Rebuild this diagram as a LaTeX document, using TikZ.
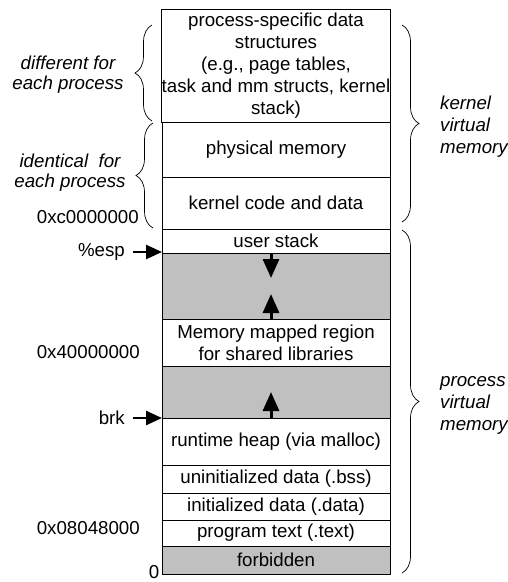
\documentclass[tikz,border=0pt]{standalone}
\usepackage{fontspec}
\setmainfont{Liberation Sans}
\usetikzlibrary{positioning,arrows.meta,decorations.pathreplacing}
\definecolor{gapgray}{RGB}{192,192,192}
\tikzset{
  seg/.style={draw,line width=0.8pt,minimum width=228pt,inner sep=0pt,outer sep=0pt,align=center,anchor=north},
  gap/.style={seg,fill=gapgray},
  growarrow/.style={line width=3pt,-{Triangle[width=16pt,length=19pt]}},
  ptr/.style={line width=2.5pt,-{Triangle[width=14pt,length=16pt]}},
  addr/.style={anchor=east,inner sep=0pt},
  side/.style={font=\itshape\fontsize{18.7}{20}\selectfont,inner sep=0pt},
  cbrace/.style={decorate,decoration={brace,amplitude=17pt},line width=0.7pt}
}
\begin{document}
\begin{tikzpicture}[x=1pt,y=-1pt,font=\fontsize{18.7}{22}\selectfont]
\useasboundingbox (0,0) rectangle (508,582);
% the address space, top to bottom
\node[seg,minimum height=113pt] (pss) at (276,9) {process-specific data\\structures\\(e.g., page tables,\\task and mm structs, kernel\\stack)};
\node[seg,minimum height=55pt,below=0pt of pss] (phys) {physical memory};
\node[seg,minimum height=52pt,below=0pt of phys] (kcode) {kernel code and data};
\node[seg,minimum height=24pt,below=0pt of kcode] (ustack) {user stack};
\node[gap,minimum height=66pt,below=0pt of ustack] (gap1) {};
\node[seg,minimum height=47pt,below=0pt of gap1] (mmap) {Memory mapped region\\for shared libraries};
\node[gap,minimum height=52pt,below=0pt of mmap] (gap2) {};
\node[seg,minimum height=47pt,below=0pt of gap2] (heap) {runtime heap (via malloc)};
\node[seg,minimum height=28pt,below=0pt of heap] (bss) {uninitialized data (.bss)};
\node[seg,minimum height=27pt,below=0pt of bss] (data) {initialized data (.data)};
\node[seg,minimum height=26pt,below=0pt of data] (text) {program text (.text)};
\node[gap,minimum height=28pt,below=0pt of text] (forbid) {forbidden};
% growth arrows
\draw[growarrow] ([xshift=-5pt]gap1.north) -- ([xshift=-5pt,yshift=-25pt]gap1.north);
\draw[growarrow] ([xshift=-5pt]gap1.south) -- ([xshift=-5pt,yshift=25pt]gap1.south);
\draw[growarrow] ([xshift=-5pt]gap2.south) -- ([xshift=-5pt,yshift=26pt]gap2.south);
% pointers and addresses
\node[addr] (esp) at (125,252) {\%esp};
\draw[ptr] ([xshift=8pt]esp.east) -- (esp -| ustack.west);
\node[addr] (brk) at (125,418) {brk};
\draw[ptr] ([xshift=8pt]brk.east) -- (brk -| heap.west);
\node[addr] (kbase) at (139,217) {0xc0000000};
\node[addr] (mbase) at (140,352) {0x40000000};
\node[addr] (tbase) at (140,528) {0x08048000};
\node[inner sep=0pt] (zero) at (154,572) {0};
% braces
\draw[cbrace] (152,121) -- (152,25);
\draw[cbrace] (153,228) -- (153,123);
\draw[cbrace] (402,25) -- (402,222);
\draw[cbrace] (402,230) -- (402,573);
\node[side,align=center] (diff) at (68,75) {different for\\each process};
\node[side,align=center] (ident) at (70,173) {identical~ for\\each process};
\node[side,align=left,anchor=west,font=\itshape\fontsize{18.7}{22}\selectfont] (kvm) at (440,127) {kernel\\virtual\\memory};
\node[side,align=left,anchor=west,font=\itshape\fontsize{18.7}{22}\selectfont] (pvm) at (440,405) {process\\virtual\\memory};
\end{tikzpicture}
\end{document}
